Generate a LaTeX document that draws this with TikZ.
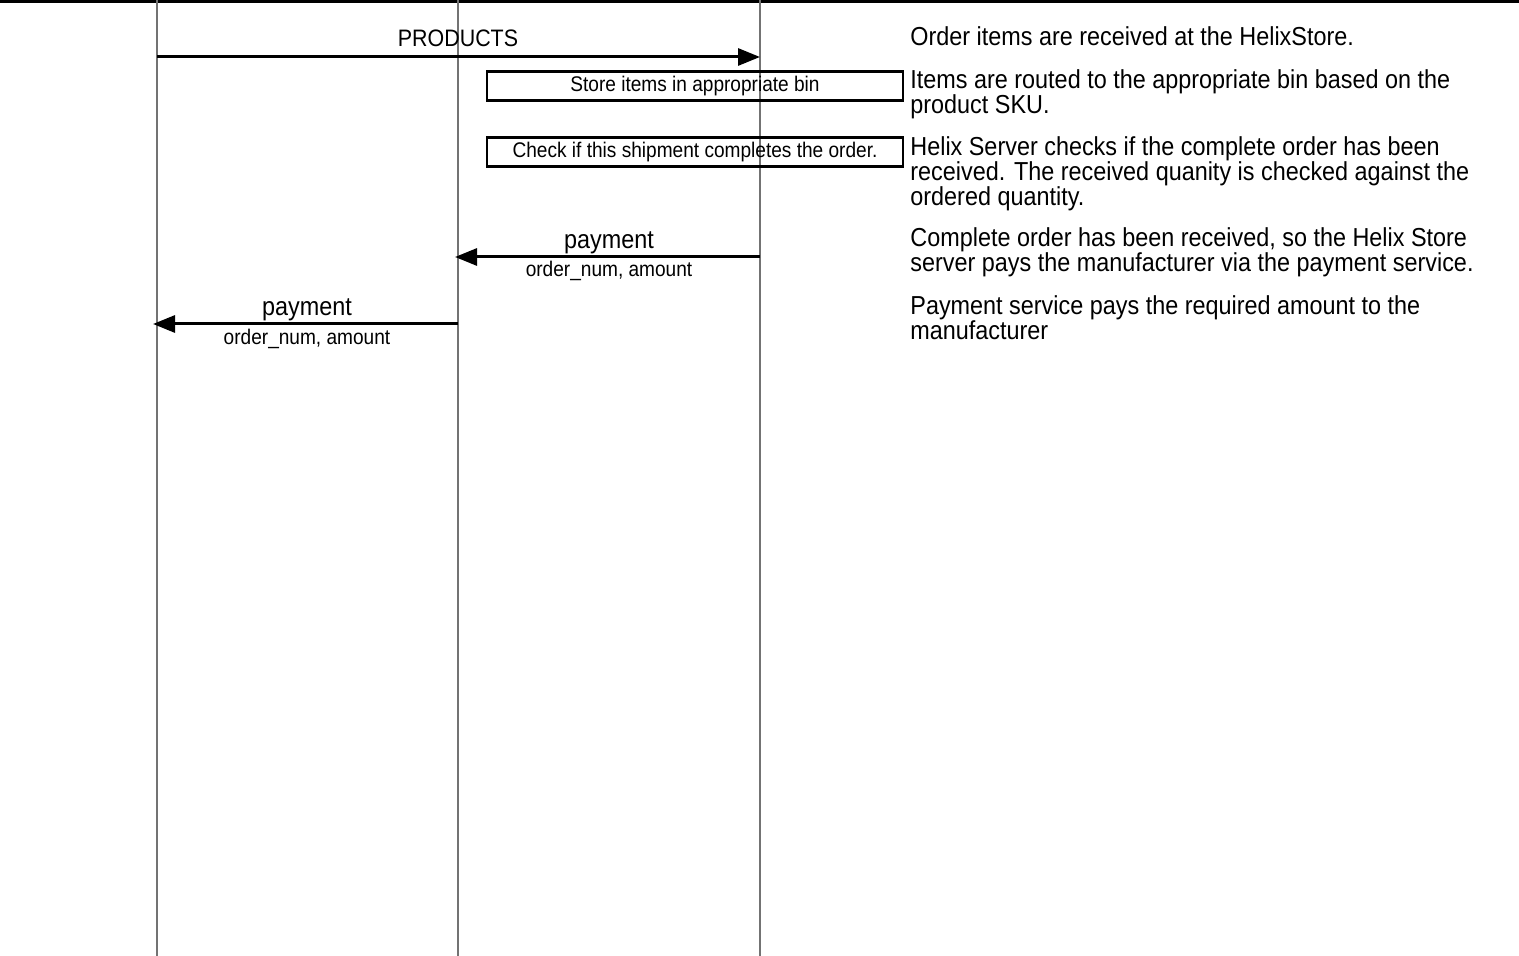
\documentclass[tikz,border=0pt]{standalone}
\usepackage{fontspec}
\setmainfont[FakeStretch=0.9]{Liberation Sans}
\usetikzlibrary{arrows.meta}
\begin{document}
\begin{tikzpicture}[x=0.5pt,y=-0.5pt,
  life/.style={draw=black!55, line width=0.75pt},
  msg/.style={draw=black, line width=1.5pt, -{Triangle[length=11pt,width=8.5pt]}},
  big/.style={font=\fontsize{13}{12}\selectfont, inner sep=0pt},
  mid/.style={font=\fontsize{11.9}{12}\selectfont, inner sep=0pt},
  small/.style={font=\fontsize{10.6}{12}\selectfont, inner sep=0pt},
  desc/.style={big, anchor=base west},
  lbl/.style={big, anchor=base},
  sublbl/.style={small, anchor=base},
  actbox/.style={draw=black, line width=1.25pt, small, minimum width=208pt, minimum height=14.5pt, inner sep=0pt},
]
\useasboundingbox (0,0) rectangle (1519,956);

% top rule
\coordinate (tl) at (0,1.5);
\coordinate (tr) at (1519,1.5);
\draw[line width=2pt] (tl) -- (tr);

% lifelines
\coordinate (A0) at (157,0);   \coordinate (A1) at (157,956);
\coordinate (B0) at (458,0);   \coordinate (B1) at (458,956);
\coordinate (C0) at (760,0);   \coordinate (C1) at (760,956);
\draw[life] (A0) -- (A1);
\draw[life] (B0) -- (B1);
\draw[life] (C0) -- (C1);

% PRODUCTS message
\coordinate (p1) at (157,57);
\coordinate (p2) at (760,57);
\draw[msg] (p1) -- (p2);
\node[mid, anchor=base] (prodlbl) at (458,47) {PRODUCTS};

% activity boxes
\node[actbox] (box1) at (695,86) {Store items in appropriate bin};
\node[actbox] (box2) at (695,152) {Check if this shipment completes the order.};

% payment 1
\coordinate (q1) at (760,257);
\coordinate (q2) at (455,257);
\draw[msg] (q1) -- (q2);
\node[lbl] (pay1) at (609,249) {payment};
\node[sublbl] (arg1) at (609,277) {order\_num, amount};

% payment 2
\coordinate (r1) at (458,324);
\coordinate (r2) at (153,324);
\draw[msg] (r1) -- (r2);
\node[lbl] (pay2) at (307,316) {payment};
\node[sublbl] (arg2) at (307,345) {order\_num, amount};

% descriptions
\node[desc] (d1) at (910,46) {Order items are received at the HelixStore.};
\node[desc] (d2a) at (910,89) {Items are routed to the appropriate bin based on the};
\node[desc] (d2b) at (910,114) {product SKU.};
\node[desc] (d3a) at (910,156) {Helix Server checks if the complete order has been};
\node[desc] (d3b) at (910,181) {received. The received quanity is checked against the};
\node[desc] (d3c) at (910,206) {ordered quantity.};
\node[desc] (d4a) at (910,247) {Complete order has been received, so the Helix Store};
\node[desc] (d4b) at (910,272) {server pays the manufacturer via the payment service.};
\node[desc] (d5a) at (910,315) {Payment service pays the required amount to the};
\node[desc] (d5b) at (910,340) {manufacturer};
\end{tikzpicture}
\end{document}
